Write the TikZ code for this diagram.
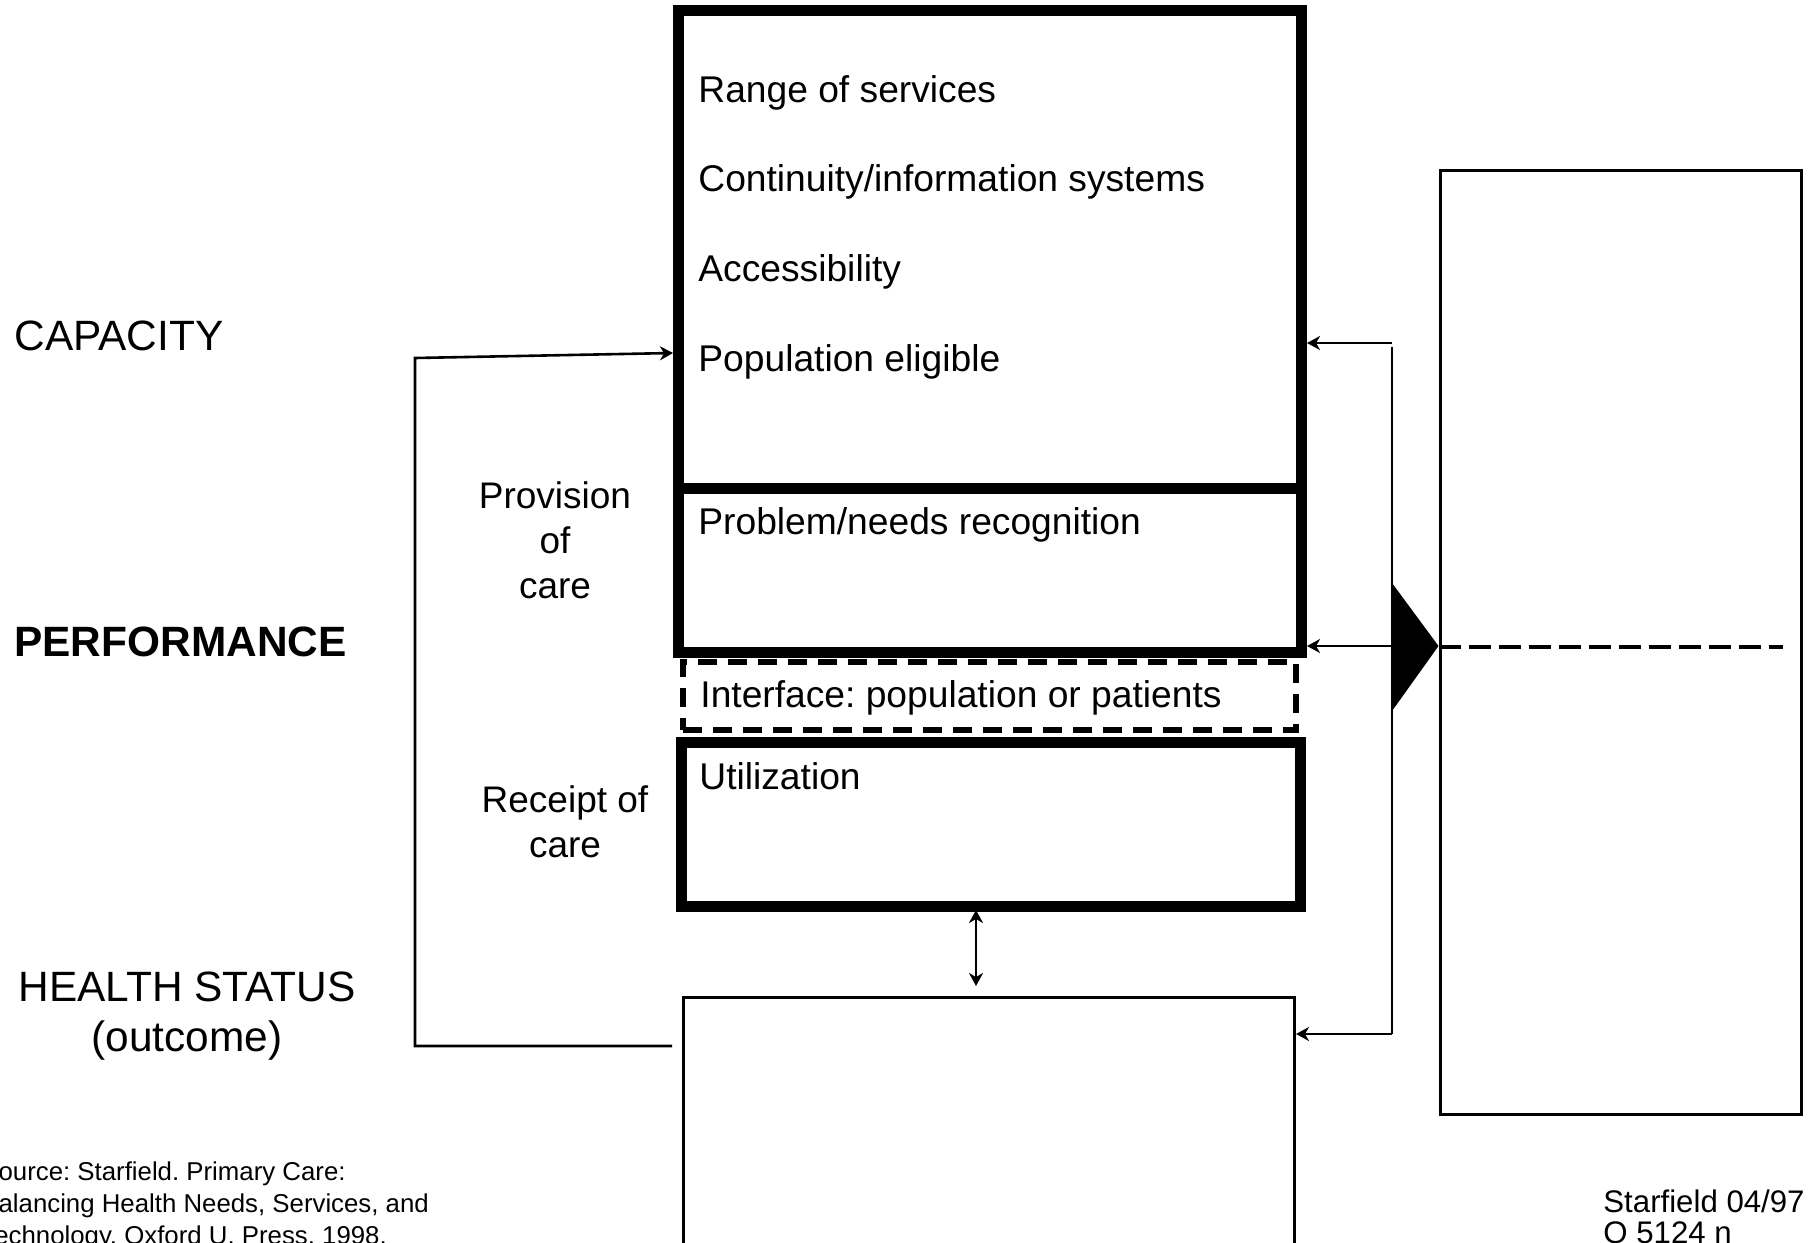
\documentclass[tikz,border=0pt]{standalone}
\usepackage{fontspec}
\setmainfont{Liberation Sans}
\usetikzlibrary{arrows.meta}
\frenchspacing
\begin{document}
\begin{tikzpicture}[x=0.5pt,y=-0.5pt,
  heavybox/.style={draw,line width=5.5pt,inner sep=0pt},
  dashbox/.style={draw,line width=2.8pt,dash pattern=on 9.5pt off 5.5pt,inner sep=0pt},
  thinbox/.style={draw,line width=1.5pt,inner sep=0pt},
  boxtext/.style={anchor=base west,inner sep=0pt,font=\fontsize{18.6}{22}\selectfont},
  sidelabel/.style={inner sep=0pt,font=\fontsize{21.2}{25}\selectfont},
  midlabel/.style={anchor=base,inner sep=0pt,font=\fontsize{18.5}{22}\selectfont},
  srcnote/.style={anchor=base west,inner sep=0pt,font=\fontsize{12.9}{15}\selectfont},
  feed/.style={line width=1.3pt},
  tip/.style={-{Stealth[length=6.5pt,width=7pt,inset=2pt]}}]
\useasboundingbox (0,0) rectangle (1808,1242);
\node[heavybox,minimum width=311.5pt,minimum height=238.75pt](cap) at (990,249.25){};
\node[heavybox,minimum width=311.5pt,minimum height=82.25pt](prob) at (990,570.25){};
\node[dashbox,minimum width=306.5pt,minimum height=34pt](iface) at (989.5,696){};
\node[heavybox,minimum width=309.5pt,minimum height=82pt](util) at (990.5,824){};
\node[thinbox,minimum width=305.5pt,minimum height=146.5pt](health) at (989,1143.5){};
\node[thinbox,minimum width=180.75pt,minimum height=471.75pt](side) at (1620.75,642.25){};
\node[boxtext](range) at (698,102){Range of services};
\node[boxtext](cont) at (698,191.5){Continuity/information systems};
\node[boxtext](acc) at (698,281){Accessibility};
\node[boxtext](pop) at (698,371){Population eligible};
\node[boxtext](needs) at (698,534){Problem/needs recognition};
\node[boxtext](iftext) at (700,707){Interface: population or patients};
\node[boxtext](usetext) at (699,789){Utilization};
\node[sidelabel,anchor=base west](capacity) at (14,350){CAPACITY};
\node[sidelabel,anchor=base west,font=\fontsize{21.2}{25}\selectfont\bfseries](perf) at (14,656){PERFORMANCE};
\node[sidelabel,anchor=base](hs) at (187,1001){HEALTH STATUS};
\node[sidelabel,anchor=base](outc) at (187,1051){(outcome)};
\node[midlabel](prov1) at (555,508){Provision};
\node[midlabel](prov2) at (555,553){of};
\node[midlabel](prov3) at (555,598){care};
\node[midlabel](rec1) at (565,812){Receipt of};
\node[midlabel](rec2) at (565,857){care};
\node[srcnote](src1) at (-19,1180){Source: Starfield. Primary Care:};
\node[srcnote](src2) at (-19,1212){Balancing Health Needs, Services, and};
\node[srcnote](src3) at (-19,1244){Technology. Oxford U. Press, 1998.};
\node[srcnote,font=\fontsize{15.6}{18}\selectfont](stamp1) at (1603,1212){Starfield 04/97};
\node[srcnote,font=\fontsize{15.6}{18}\selectfont](stamp2) at (1603,1243){Q 5124 n};
\coordinate(lfoot) at (672,1046);
\coordinate(lbend) at (415,1046);
\coordinate(ltop) at (415,358);
\coordinate(popy) at (0,353);
\draw[feed,tip](lfoot)--(lbend)--(ltop)--(cap.west|-popy);
\coordinate(rtop) at (1392,343);
\coordinate(rvtop) at (1392,347);
\coordinate(rmid) at (1392,646);
\coordinate(rbot) at (1392,1034);
\draw[feed,tip](rtop)--(rtop-|cap.east);
\draw[feed](rvtop)--(rbot);
\draw[feed,tip](rmid)--(rmid-|prob.east);
\draw[feed,tip](rbot)--(rbot-|health.east);
\fill(1392,583)--(side.west|-rmid)--(1392,711)--cycle;
\coordinate(splitend) at (1783,647);
\draw[line width=1.7pt,dash pattern=on 11pt off 4pt](side.west|-splitend)--(splitend);
\coordinate(ua) at (976,910);
\coordinate(ub) at (976,986);
\draw[feed,{Stealth[length=6.5pt,width=7pt,inset=2pt]}-{Stealth[length=6.5pt,width=7pt,inset=2pt]}](ua)--(ub);
\end{tikzpicture}
\end{document}
